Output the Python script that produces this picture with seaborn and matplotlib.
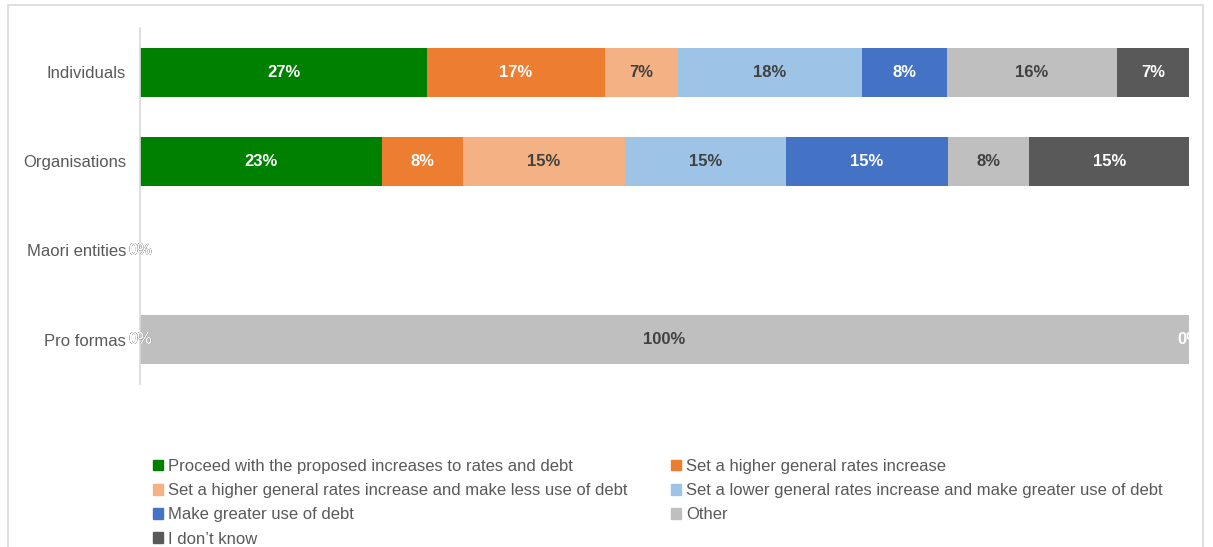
import numpy as np
import pandas as pd
import matplotlib
matplotlib.use("Agg")
import matplotlib.pyplot as plt
from matplotlib.patches import Rectangle, Patch
import seaborn as sns

categories = ["Individuals", "Organisations", "Maori entities", "Pro formas"]
options = [
    "Proceed with the proposed increases to rates and debt",
    "Set a higher general rates increase",
    "Set a higher general rates increase and make less use of debt",
    "Set a lower general rates increase and make greater use of debt",
    "Make greater use of debt",
    "Other",
    "I don\u2019t know",
]
proceed = [27.4, 23.1, 0, 0]
higher_rates = [16.9, 7.7, 0, 0]
higher_less_debt = [7.0, 15.4, 0, 0]
lower_more_debt = [17.5, 15.4, 0, 0]
greater_debt = [8.1, 15.4, 0, 0]
other = [16.2, 7.7, 0, 100]
dont_know = [6.9, 15.4, 0, 0]

series = [proceed, higher_rates, higher_less_debt, lower_more_debt,
          greater_debt, other, dont_know]
colors = ["#008000", "#ED7D31", "#F4B183", "#9DC3E6", "#4472C4", "#BFBFBF", "#595959"]
label_colors = ["white", "white", "#404040", "#404040", "white", "#404040", "white"]

sns.set_theme(style="white")
plt.rcParams["font.family"] = ["Liberation Sans", "DejaVu Sans"]

fig = plt.figure(figsize=(12.13, 5.47), dpi=100)
ax = fig.add_axes([140 / 1213, 1 - 384 / 547, (1189 - 140) / 1213, (384 - 28) / 547])

vals = np.array(series)
cum = np.cumsum(vals, axis=0)

# draw stacked bars from the outermost to innermost
for i in range(len(series) - 1, -1, -1):
    df = pd.DataFrame({"cat": categories, "val": cum[i]})
    sns.barplot(data=df, x="val", y="cat", order=categories, color=colors[i],
                width=0.56, orient="h", ax=ax, saturation=1, linewidth=0)

# labels
for i in range(len(series)):
    for j in range(len(categories)):
        v = vals[i, j]
        center = cum[i, j] - v / 2
        ax.text(center, j, f"{round(v)}%", ha="center", va="center",
                color=label_colors[i], fontsize=12, fontweight="bold",
                clip_on=False)

ax.set_xlim(0, 100)
ax.set_ylim(3.5, -0.5)
ax.set_xlabel("")
ax.set_ylabel("")
ax.set_xticks([])
for s in ["top", "right", "bottom"]:
    ax.spines[s].set_visible(False)
ax.spines["left"].set_color("#D9D9D9")
ax.spines["left"].set_linewidth(1.2)
ax.tick_params(axis="y", length=0, pad=10, labelsize=12, labelcolor="#595959")

# outer frame
fig.patches.append(Rectangle((8 / 1213, -0.1), (1203 - 8) / 1213, 1.1 - 5 / 547,
                             transform=fig.transFigure, fill=False,
                             edgecolor="#D9D9D9", linewidth=1.2))

# legend (row-wise order as in reference)
handles = [Patch(facecolor=c, edgecolor=c) for c in colors]
order = [0, 2, 4, 6, 1, 3, 5]
fig.legend([handles[k] for k in order], [options[k] for k in order],
           ncol=2, loc="upper left", bbox_to_anchor=(153 / 1213, 1 - 459 / 547),
           frameon=False, fontsize=12, handlelength=0.6, handleheight=0.6,
           handletextpad=0.3, columnspacing=2.6, labelspacing=0.55,
           labelcolor="#595959", borderaxespad=0, borderpad=0)

fig.savefig("out.png", dpi=100)
